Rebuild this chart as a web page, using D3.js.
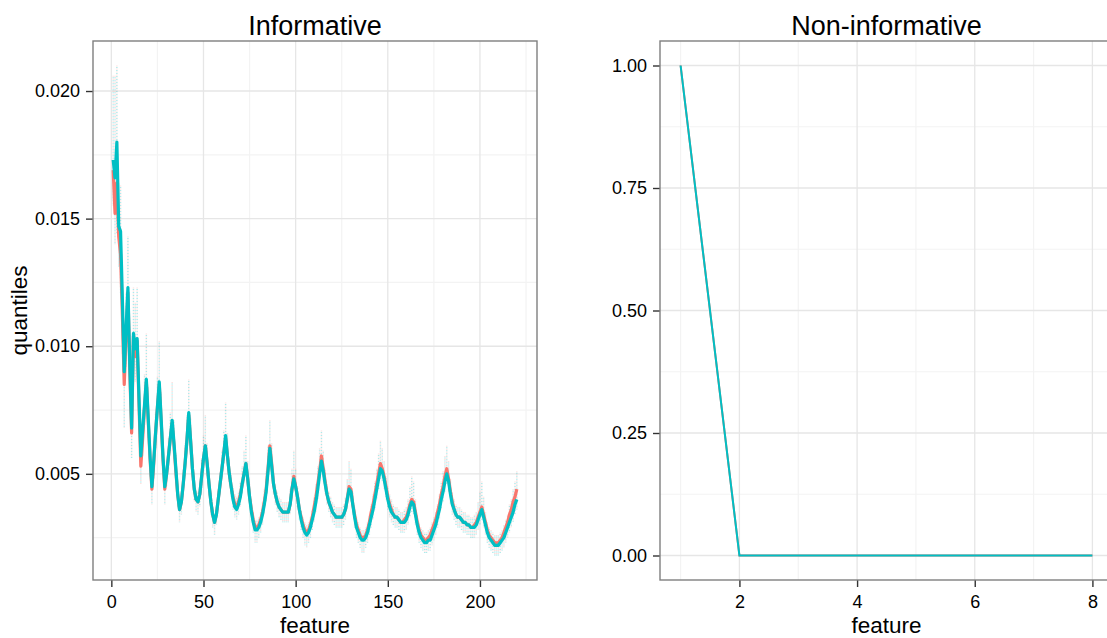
<!DOCTYPE html>
<html>
<head>
<meta charset="utf-8">
<script src="https://cdn.jsdelivr.net/npm/d3@7"></script>
<style>
  body { margin: 0; background: #fff; }
  svg { display: block; }
  text { font-family: "Liberation Sans", Arial, Helvetica, sans-serif; fill: #000; }
</style>
</head>
<body>
<svg id="chart" width="1107" height="638"></svg>
<script>
// ---- Informative features: mean quantile per feature, two groups ----
const features = d3.range(1, 221);

const cyanMean = [
  0.0173,0.0166,0.0180,0.0147,0.0145,0.0118,0.0090,0.0107,0.0123,0.0093,
  0.0068,0.0105,0.0099,0.0103,0.0080,0.0057,0.0067,0.0077,0.0087,0.0072,
  0.0057,0.0045,0.0055,0.0066,0.0076,0.0086,0.0072,0.0057,0.0045,0.0050,
  0.0057,0.0064,0.0071,0.0062,0.0052,0.0042,0.0036,0.0039,0.0046,0.0054,
  0.0063,0.0074,0.0063,0.0052,0.0044,0.0040,0.0039,0.0042,0.0049,0.0056,
  0.0061,0.0054,0.0046,0.0039,0.0034,0.0031,0.0034,0.0040,0.0046,0.0052,
  0.0058,0.0065,0.0057,0.0050,0.0045,0.0040,0.0037,0.0036,0.0038,0.0041,
  0.0046,0.0050,0.0054,0.0048,0.0041,0.0035,0.0031,0.0028,0.0028,0.0029,
  0.0031,0.0034,0.0038,0.0043,0.0051,0.0060,0.0053,0.0046,0.0042,0.0039,
  0.0037,0.0036,0.0035,0.0035,0.0035,0.0035,0.0038,0.0044,0.0048,0.0045,
  0.0041,0.0036,0.0032,0.0029,0.0027,0.0026,0.0027,0.0029,0.0032,0.0035,
  0.0039,0.0044,0.0050,0.0055,0.0051,0.0046,0.0042,0.0039,0.0037,0.0035,
  0.0034,0.0033,0.0033,0.0033,0.0033,0.0034,0.0036,0.0040,0.0044,0.0043,
  0.0038,0.0033,0.0029,0.0027,0.0025,0.0024,0.0024,0.0025,0.0027,0.0030,
  0.0033,0.0036,0.0040,0.0044,0.0048,0.0052,0.0051,0.0048,0.0044,0.0040,
  0.0037,0.0035,0.0034,0.0033,0.0033,0.0032,0.0031,0.0031,0.0031,0.0032,
  0.0034,0.0037,0.0039,0.0038,0.0034,0.0030,0.0027,0.0025,0.0024,0.0023,
  0.0023,0.0024,0.0024,0.0026,0.0028,0.0030,0.0033,0.0036,0.0040,0.0043,
  0.0047,0.0050,0.0047,0.0042,0.0038,0.0036,0.0034,0.0033,0.0033,0.0032,
  0.0031,0.0031,0.0030,0.0030,0.0029,0.0029,0.0029,0.0030,0.0032,0.0034,
  0.0036,0.0033,0.0030,0.0027,0.0025,0.0024,0.0023,0.0022,0.0022,0.0022,
  0.0023,0.0024,0.0025,0.0027,0.0029,0.0031,0.0033,0.0035,0.0038,0.0040
];

const redMean = [
  0.0169,0.0152,0.0164,0.0143,0.0136,0.0112,0.0085,0.0104,0.0121,0.0091,
  0.0066,0.0104,0.0096,0.0102,0.0078,0.0053,0.0064,0.0076,0.0086,0.0071,
  0.0056,0.0044,0.0054,0.0066,0.0076,0.0085,0.0071,0.0056,0.0044,0.0050,
  0.0057,0.0064,0.0070,0.0061,0.0051,0.0042,0.0036,0.0039,0.0046,0.0054,
  0.0063,0.0073,0.0063,0.0052,0.0044,0.0040,0.0039,0.0042,0.0049,0.0056,
  0.0061,0.0054,0.0046,0.0039,0.0034,0.0031,0.0034,0.0040,0.0046,0.0052,
  0.0058,0.0064,0.0057,0.0050,0.0045,0.0041,0.0038,0.0037,0.0039,0.0042,
  0.0046,0.0050,0.0054,0.0048,0.0041,0.0036,0.0032,0.0029,0.0029,0.0030,
  0.0032,0.0035,0.0039,0.0044,0.0052,0.0061,0.0054,0.0046,0.0042,0.0039,
  0.0037,0.0036,0.0035,0.0035,0.0035,0.0035,0.0038,0.0044,0.0049,0.0045,
  0.0041,0.0036,0.0033,0.0030,0.0028,0.0027,0.0028,0.0030,0.0033,0.0037,
  0.0041,0.0046,0.0051,0.0057,0.0052,0.0047,0.0042,0.0039,0.0037,0.0035,
  0.0034,0.0033,0.0033,0.0033,0.0033,0.0034,0.0036,0.0040,0.0045,0.0044,
  0.0038,0.0034,0.0030,0.0028,0.0026,0.0025,0.0025,0.0026,0.0028,0.0031,
  0.0035,0.0038,0.0042,0.0046,0.0050,0.0054,0.0052,0.0049,0.0045,0.0041,
  0.0038,0.0036,0.0034,0.0033,0.0033,0.0032,0.0031,0.0031,0.0032,0.0033,
  0.0035,0.0038,0.0040,0.0039,0.0035,0.0031,0.0028,0.0026,0.0025,0.0024,
  0.0024,0.0025,0.0026,0.0028,0.0030,0.0032,0.0035,0.0038,0.0042,0.0045,
  0.0049,0.0052,0.0048,0.0043,0.0039,0.0036,0.0034,0.0033,0.0033,0.0032,
  0.0031,0.0031,0.0030,0.0030,0.0029,0.0029,0.0030,0.0031,0.0033,0.0035,
  0.0037,0.0034,0.0031,0.0028,0.0026,0.0025,0.0024,0.0023,0.0023,0.0023,
  0.0024,0.0025,0.0027,0.0029,0.0031,0.0034,0.0036,0.0039,0.0041,0.0044
];

// spread of the sampled quantiles above the higher mean / below the lower mean
const spreadUp = [
  0.0033,0.0040,0.0030,0.0017,0.0018,0.0015,0.0010,0.0014,0.0020,0.0012,
  0.0008,0.0018,0.0018,0.0020,0.0012,0.0007,0.0008,0.0012,0.0018,0.0012,
  0.0007,0.0005,0.0006,0.0008,0.0012,0.0016,0.0010,0.0006,0.0005,0.0005,
  0.0007,0.0010,0.0015,0.0009,0.0006,0.0004,0.0004,0.0004,0.0006,0.0008,
  0.0010,0.0013,0.0009,0.0006,0.0005,0.0004,0.0004,0.0005,0.0007,0.0009,
  0.0012,0.0008,0.0005,0.0004,0.0003,0.0003,0.0003,0.0004,0.0005,0.0007,
  0.0009,0.0013,0.0009,0.0006,0.0005,0.0004,0.0004,0.0004,0.0004,0.0005,
  0.0007,0.0009,0.0011,0.0007,0.0005,0.0004,0.0003,0.0003,0.0003,0.0003,
  0.0003,0.0004,0.0005,0.0007,0.0009,0.0010,0.0008,0.0005,0.0004,0.0004,
  0.0004,0.0004,0.0004,0.0004,0.0004,0.0004,0.0006,0.0008,0.0010,0.0007,
  0.0004,0.0003,0.0003,0.0003,0.0003,0.0003,0.0003,0.0003,0.0003,0.0004,
  0.0005,0.0007,0.0009,0.0010,0.0007,0.0005,0.0004,0.0004,0.0004,0.0004,
  0.0004,0.0004,0.0004,0.0004,0.0004,0.0004,0.0005,0.0008,0.0010,0.0008,
  0.0005,0.0003,0.0003,0.0003,0.0003,0.0003,0.0003,0.0003,0.0003,0.0003,
  0.0003,0.0004,0.0005,0.0006,0.0008,0.0009,0.0008,0.0006,0.0004,0.0004,
  0.0004,0.0004,0.0004,0.0004,0.0004,0.0004,0.0004,0.0004,0.0004,0.0004,
  0.0005,0.0007,0.0009,0.0008,0.0005,0.0003,0.0003,0.0003,0.0003,0.0003,
  0.0003,0.0003,0.0003,0.0003,0.0003,0.0003,0.0003,0.0004,0.0005,0.0006,
  0.0008,0.0009,0.0007,0.0005,0.0004,0.0004,0.0004,0.0004,0.0004,0.0004,
  0.0004,0.0004,0.0004,0.0004,0.0004,0.0004,0.0004,0.0004,0.0006,0.0008,
  0.0010,0.0007,0.0004,0.0003,0.0003,0.0003,0.0003,0.0003,0.0003,0.0003,
  0.0003,0.0003,0.0003,0.0003,0.0003,0.0004,0.0004,0.0005,0.0006,0.0007
];

const spreadDown = [
  0.0014,0.0012,0.0020,0.0012,0.0015,0.0015,0.0017,0.0012,0.0012,0.0012,
  0.0010,0.0012,0.0010,0.0010,0.0010,0.0007,0.0007,0.0007,0.0007,0.0007,
  0.0007,0.0006,0.0006,0.0006,0.0006,0.0006,0.0006,0.0006,0.0006,0.0005,
  0.0005,0.0005,0.0005,0.0005,0.0005,0.0005,0.0005,0.0005,0.0005,0.0005,
  0.0005,0.0005,0.0005,0.0005,0.0005,0.0005,0.0005,0.0005,0.0005,0.0005,
  0.0005,0.0005,0.0005,0.0005,0.0005,0.0005,0.0004,0.0004,0.0004,0.0004,
  0.0004,0.0004,0.0004,0.0004,0.0004,0.0004,0.0004,0.0004,0.0004,0.0004,
  0.0004,0.0004,0.0004,0.0004,0.0004,0.0004,0.0004,0.0005,0.0005,0.0004,
  0.0004,0.0004,0.0004,0.0004,0.0004,0.0004,0.0004,0.0004,0.0004,0.0004,
  0.0004,0.0004,0.0004,0.0004,0.0004,0.0004,0.0004,0.0004,0.0004,0.0004,
  0.0004,0.0004,0.0004,0.0004,0.0005,0.0005,0.0004,0.0004,0.0004,0.0004,
  0.0004,0.0004,0.0004,0.0004,0.0004,0.0004,0.0004,0.0004,0.0004,0.0004,
  0.0004,0.0004,0.0004,0.0004,0.0004,0.0004,0.0004,0.0004,0.0004,0.0004,
  0.0004,0.0004,0.0004,0.0004,0.0004,0.0005,0.0005,0.0004,0.0004,0.0004,
  0.0004,0.0004,0.0004,0.0004,0.0004,0.0004,0.0004,0.0004,0.0004,0.0004,
  0.0004,0.0004,0.0004,0.0004,0.0004,0.0004,0.0004,0.0004,0.0004,0.0004,
  0.0004,0.0004,0.0004,0.0004,0.0004,0.0004,0.0004,0.0004,0.0004,0.0004,
  0.0004,0.0004,0.0004,0.0004,0.0004,0.0004,0.0004,0.0004,0.0004,0.0004,
  0.0004,0.0004,0.0004,0.0004,0.0004,0.0004,0.0004,0.0004,0.0004,0.0004,
  0.0004,0.0004,0.0004,0.0004,0.0004,0.0004,0.0004,0.0004,0.0004,0.0004,
  0.0004,0.0004,0.0004,0.0004,0.0004,0.0004,0.0004,0.0004,0.0004,0.0004,
  0.0004,0.0004,0.0004,0.0004,0.0004,0.0004,0.0004,0.0004,0.0004,0.0004
];

// ---- Non-informative features ----
const nonInfFeatures = [1, 2, 3, 4, 5, 6, 7, 8];
const nonInfRed  = [1, 0, 0, 0, 0, 0, 0, 0];
const nonInfCyan = [1, 0, 0, 0, 0, 0, 0, 0];

// ---- axis breaks ----
const leftXTicks  = [0, 50, 100, 150, 200];
const leftYTicks  = [0.005, 0.010, 0.015, 0.020];
const rightXTicks = [2, 4, 6, 8];
const rightYTicks = [0, 0.25, 0.50, 0.75, 1.00];

const RED = "#F8766D", CYAN = "#00BFC4";

const svg = d3.select("#chart");

// ggplot-style 5% expansion of a continuous range
function expand([a, b]) { const d = (b - a) * 0.05; return [a - d, b + d]; }

// minor breaks halfway between major breaks, kept inside the domain
function minorBreaks(majors, domain) {
  const step = majors[1] - majors[0];
  const out = [];
  for (let v = majors[0] - step / 2; v <= majors[majors.length - 1] + step / 2 + 1e-12; v += step) {
    if (v >= domain[0] && v <= domain[1]) out.push(v);
  }
  return out;
}

function panel(cfg) {
  const { box, x, y, xTicks, yTicks, xFmt, yFmt, title } = cfg;
  const g = svg.append("g");

  g.append("rect")
    .attr("x", box.x0).attr("y", box.y0)
    .attr("width", box.x1 - box.x0).attr("height", box.y1 - box.y0)
    .attr("fill", "#fff");

  const grid = g.append("g");
  minorBreaks(xTicks, x.domain()).forEach(v => {
    grid.append("line").attr("x1", x(v)).attr("x2", x(v)).attr("y1", box.y0).attr("y2", box.y1)
      .attr("stroke", "#f3f3f3").attr("stroke-width", 1.2);
  });
  minorBreaks(yTicks, y.domain()).forEach(v => {
    grid.append("line").attr("y1", y(v)).attr("y2", y(v)).attr("x1", box.x0).attr("x2", box.x1)
      .attr("stroke", "#f3f3f3").attr("stroke-width", 1.2);
  });
  xTicks.forEach(v => {
    grid.append("line").attr("x1", x(v)).attr("x2", x(v)).attr("y1", box.y0).attr("y2", box.y1)
      .attr("stroke", "#e6e6e6").attr("stroke-width", 1.3);
  });
  yTicks.forEach(v => {
    grid.append("line").attr("y1", y(v)).attr("y2", y(v)).attr("x1", box.x0).attr("x2", box.x1)
      .attr("stroke", "#e6e6e6").attr("stroke-width", 1.3);
  });

  const marks = g.append("g");

  // axes
  const xAxis = d3.axisBottom(x).tickValues(xTicks).tickFormat(xFmt).tickSize(7).tickPadding(8);
  const yAxis = d3.axisLeft(y).tickValues(yTicks).tickFormat(yFmt).tickSize(7).tickPadding(6);

  const gx = g.append("g").attr("transform", `translate(0,${box.y1})`).call(xAxis);
  const gy = g.append("g").attr("transform", `translate(${box.x0},0)`).call(yAxis);
  [gx, gy].forEach(a => {
    a.select(".domain").remove();
    a.selectAll(".tick line").attr("stroke", "#333").attr("stroke-width", 1.4);
    a.selectAll(".tick text").attr("font-size", 18).attr("fill", "#000")
      .style("font-family", '"Liberation Sans", Arial, sans-serif');
  });
  gx.selectAll(".tick text").attr("dy", "0.71em");

  g.append("rect")
    .attr("x", box.x0).attr("y", box.y0)
    .attr("width", box.x1 - box.x0).attr("height", box.y1 - box.y0)
    .attr("fill", "none").attr("stroke", "#7f7f7f").attr("stroke-width", 1.4);

  g.append("text").attr("x", (box.x0 + box.x1) / 2).attr("y", 35)
    .attr("text-anchor", "middle").attr("font-size", 27).text(title);

  g.append("text").attr("x", (box.x0 + box.x1) / 2).attr("y", 633)
    .attr("text-anchor", "middle").attr("font-size", 22.5).text("feature");

  return marks;
}

// ---------- left panel: Informative ----------
const leftBox = { x0: 93, x1: 537, y0: 41, y1: 580 };
const hiBand = features.map((f, i) => Math.max(cyanMean[i], redMean[i]) + spreadUp[i]);
const loBand = features.map((f, i) => Math.min(cyanMean[i], redMean[i]) - spreadDown[i]);

const xL = d3.scaleLinear().domain(expand(d3.extent(features))).range([leftBox.x0, leftBox.x1]);
const yL = d3.scaleLinear().domain(expand([d3.min(loBand), d3.max(hiBand)])).range([leftBox.y1, leftBox.y0]);

const mL = panel({
  box: leftBox, x: xL, y: yL, xTicks: leftXTicks, yTicks: leftYTicks,
  xFmt: d3.format("d"), yFmt: d3.format(".3f"), title: "Informative"
});

// sampled quantiles: faint dotted columns per feature
[[RED, 0, 0.22], [CYAN, 1.5, 0.32]].forEach(([col, off, op]) => {
  mL.append("g").selectAll("line").data(features).join("line")
    .attr("x1", d => xL(d)).attr("x2", d => xL(d))
    .attr("y1", (d, i) => yL(hiBand[i])).attr("y2", (d, i) => yL(loBand[i]))
    .attr("stroke", col).attr("stroke-width", 1.4)
    .attr("stroke-dasharray", "1 2").attr("stroke-dashoffset", off)
    .attr("opacity", op);
});

const lineL = d3.line().x(d => xL(d[0])).y(d => yL(d[1]));
mL.append("path").datum(features.map((f, i) => [f, redMean[i]]))
  .attr("d", lineL).attr("fill", "none").attr("stroke", RED)
  .attr("stroke-width", 3.2).attr("stroke-linejoin", "round");
mL.append("path").datum(features.map((f, i) => [f, cyanMean[i]]))
  .attr("d", lineL).attr("fill", "none").attr("stroke", CYAN)
  .attr("stroke-width", 3.2).attr("stroke-linejoin", "round");

svg.append("text")
  .attr("transform", `translate(27,${(leftBox.y0 + leftBox.y1) / 2}) rotate(-90)`)
  .attr("text-anchor", "middle").attr("font-size", 22.5).text("quantiles");

// ---------- right panel: Non-informative ----------
const rightBox = { x0: 660, x1: 1113, y0: 41, y1: 580 };
const xR = d3.scaleLinear().domain(expand(d3.extent(nonInfFeatures))).range([rightBox.x0, rightBox.x1]);
const yR = d3.scaleLinear().domain(expand(d3.extent(nonInfRed.concat(nonInfCyan)))).range([rightBox.y1, rightBox.y0]);

const mR = panel({
  box: rightBox, x: xR, y: yR, xTicks: rightXTicks, yTicks: rightYTicks,
  xFmt: d3.format("d"), yFmt: d3.format(".2f"), title: "Non-informative"
});

const lineR = d3.line().x(d => xR(d[0])).y(d => yR(d[1]));
mR.append("path").datum(nonInfFeatures.map((f, i) => [f, nonInfRed[i]]))
  .attr("d", lineR).attr("fill", "none").attr("stroke", RED).attr("stroke-width", 2);
mR.append("path").datum(nonInfFeatures.map((f, i) => [f, nonInfCyan[i]]))
  .attr("d", lineR).attr("fill", "none").attr("stroke", CYAN).attr("stroke-width", 2);
</script>
</body>
</html>
